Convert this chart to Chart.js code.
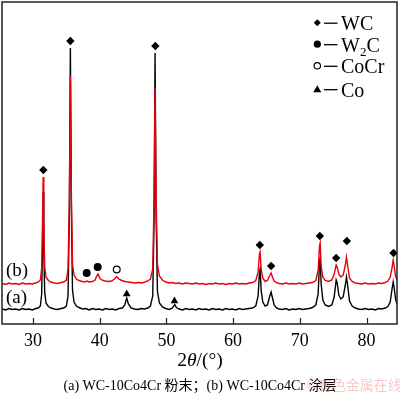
<!DOCTYPE html>
<html><head><meta charset="utf-8">
<script src="https://cdn.jsdelivr.net/npm/chart.js@4.4.0/dist/chart.umd.min.js"></script>
<style>html,body{margin:0;padding:0;background:#fff}#wrap{width:400px;height:397px;position:relative}</style>
</head><body><div id="wrap"><canvas id="c" width="400" height="397"></canvas></div>
<script>
// ---- data (2θ in degrees, intensity in arbitrary units) ----
const xTicks = [30, 40, 50, 60, 70, 80];
const seriesA = [[25.4,15],[25.9,14],[26.4,15.5],[26.9,14.5],[27.4,15],[27.9,14],[28.4,15.5],[28.9,14.5],[29.4,15],[29.9,14],[30.4,15.5],[30.8,16],[31.1,18],[31.3,30],[31.42,75],[31.52,132],[31.62,75],[31.75,32],[31.95,21],[32.3,17.5],[32.7,16],[33.2,15],[33.7,14.5],[34.2,15.5],[34.6,16],[35.0,18],[35.25,28],[35.45,110],[35.6,276],[35.75,115],[35.92,34],[36.15,22],[36.5,18],[36.9,16.5],[37.4,15],[37.9,15.5],[38.4,14],[38.9,15.5],[39.4,14.5],[39.9,15],[40.4,14],[40.9,15.5],[41.4,14.5],[41.9,15],[42.4,14],[42.9,15.5],[43.4,16],[43.75,19],[44.05,26],[44.3,20],[44.7,16],[45.2,15],[45.7,14.5],[46.2,15.5],[46.7,15],[47.2,16],[47.6,18],[47.95,28],[48.15,105],[48.3,271],[48.45,110],[48.65,33],[48.95,21],[49.4,17],[49.9,15.5],[50.4,14.5],[50.8,15.5],[51.05,17.5],[51.25,19.5],[51.5,16.5],[51.9,15],[52.4,14],[52.9,15.5],[53.4,14.5],[53.9,15],[54.4,14],[54.9,15.5],[55.4,14.5],[55.9,15],[56.4,14],[56.9,15.5],[57.4,14.5],[57.9,15],[58.4,14],[58.9,15.5],[59.4,14.5],[59.9,15],[60.4,14],[60.9,15.5],[61.4,14.5],[61.9,15],[62.4,15.5],[62.9,16],[63.4,18],[63.75,28],[63.95,52],[64.05,55],[64.2,34],[64.45,22],[64.8,18],[65.15,19],[65.45,27],[65.7,32],[65.9,26],[66.15,19],[66.5,16],[66.9,15],[67.4,14.5],[67.9,15.5],[68.4,14],[68.9,15],[69.4,14.5],[69.9,15.5],[70.4,14.5],[70.9,15],[71.4,15.5],[71.9,16.5],[72.4,19],[72.75,30],[72.95,62],[73.05,66],[73.2,40],[73.45,24],[73.8,19],[74.3,17.5],[74.8,19],[75.15,27],[75.45,44],[75.6,41],[75.85,29],[76.15,25],[76.5,27],[76.8,38],[77.0,47],[77.2,37],[77.45,23],[77.85,18],[78.3,16],[78.8,15],[79.3,14.5],[79.8,15.5],[80.3,14.5],[80.8,15],[81.3,14],[81.8,15.5],[82.3,15],[82.8,16],[83.2,17.5],[83.55,22],[83.85,36],[84.0,42],[84.15,36],[84.35,25],[84.57,20]];
const seriesB = [[25.4,40.5],[25.9,39.5],[26.4,41],[26.9,40],[27.4,40.5],[27.9,39.5],[28.4,41],[28.9,40],[29.4,40.5],[29.9,40],[30.4,41],[30.8,42],[31.1,44],[31.3,56],[31.42,100],[31.52,147],[31.62,100],[31.75,58],[31.95,47],[32.3,43.5],[32.7,42],[33.2,41],[33.7,40.5],[34.2,41.5],[34.6,42],[35.0,44],[35.25,55],[35.45,125],[35.6,249],[35.75,130],[35.92,60],[36.15,49],[36.5,45],[36.9,43.5],[37.4,42.5],[37.8,42],[38.05,43],[38.4,42],[38.9,42.5],[39.3,44],[39.55,48],[39.75,50],[40.0,46],[40.3,44],[40.8,43],[41.3,42.5],[41.8,43],[42.2,45],[42.55,47.5],[42.85,45],[43.3,43.5],[43.8,42.5],[44.3,42],[44.8,41.5],[45.3,41],[45.8,41.5],[46.3,41],[46.8,42],[47.2,43],[47.6,45],[47.95,55],[48.15,125],[48.3,236],[48.45,130],[48.65,60],[48.95,48],[49.4,44],[49.9,42],[50.4,41],[50.9,41.5],[51.4,40.5],[51.9,41],[52.4,40],[52.9,41],[53.4,40.5],[53.9,40],[54.4,41],[54.9,40],[55.4,40.5],[55.9,39.5],[56.4,40.5],[56.9,40],[57.4,41],[57.9,40],[58.4,40.5],[58.9,39.5],[59.4,40.5],[59.9,40],[60.4,41],[60.9,40],[61.4,40.5],[61.9,40],[62.4,41],[62.9,41.5],[63.4,43.5],[63.75,52],[63.95,70],[64.05,72],[64.2,55],[64.45,46],[64.8,42.5],[65.15,43.5],[65.45,48],[65.7,51],[65.9,47],[66.15,43],[66.5,41.5],[66.9,40.5],[67.4,40],[67.9,41],[68.4,40],[68.9,40.5],[69.4,40],[69.9,41],[70.4,40],[70.9,40.5],[71.4,41],[71.9,41.5],[72.4,43.5],[72.75,54],[72.95,78],[73.05,81],[73.2,58],[73.45,47],[73.8,43.5],[74.3,42.5],[74.8,44],[75.15,50],[75.45,59],[75.6,57],[75.85,50],[76.15,47],[76.5,49],[76.8,58],[77.0,67],[77.2,57],[77.45,46],[77.85,42.5],[78.3,41],[78.8,40.5],[79.3,40],[79.8,41],[80.3,40],[80.8,40.5],[81.3,40],[81.8,41],[82.3,40.5],[82.8,41.5],[83.2,43],[83.55,47],[83.85,57],[84.0,64],[84.15,58],[84.35,48],[84.57,44]];
const wcMarks   = [[31.55,154],[35.6,283],[48.34,278],[64.0,79],[65.7,58],[73.0,88],[75.45,66],[77.05,83],[84.05,71]];
const w2cMarks  = [[38.05,51],[39.7,57]];
const cocrMarks = [[42.55,54.5]];
const coMarks   = [[44.05,30],[51.2,23]];
const legendItems = ['WC', 'W2C', 'CoCr', 'Co'];
const curveLabels = ['(b)', '(a)'];
const caption = '(a) WC-10Co4Cr 粉末；(b) WC-10Co4Cr 涂层';
const watermark = '©有色金属在线';

const toXY = arr => arr.map(p => ({x: p[0], y: p[1]}));
const SERIF = '"Liberation Serif", "Times New Roman", serif';

const deco = {
  id: 'deco',
  afterDraw(chart) {
    const ctx = chart.ctx, ca = chart.chartArea, xs = chart.scales.x;
    ctx.save();
    // frame
    ctx.strokeStyle = '#222'; ctx.lineWidth = 1.5;
    ctx.strokeRect(ca.left, ca.top, ca.right - ca.left, ca.bottom - ca.top);
    // inward ticks
    ctx.lineWidth = 1.2; ctx.strokeStyle = '#222';
    xTicks.forEach(v => {
      const px = Math.round(xs.getPixelForValue(v)) + 0.5;
      ctx.beginPath(); ctx.moveTo(px, ca.bottom); ctx.lineTo(px, ca.bottom - 6); ctx.stroke();
    });
    ctx.fillStyle = '#000';
    // axis title 2θ/(°)
    ctx.textBaseline = 'alphabetic';
    const f1 = '19.5px ' + SERIF, f2 = 'italic 19.5px ' + SERIF;
    const parts = [['2', f1], ['θ', f2], ['/(°)', f1]];
    let w = 0;
    parts.forEach(p => { ctx.font = p[1]; w += ctx.measureText(p[0]).width; });
    let x = 200 - w / 2;
    parts.forEach(p => { ctx.font = p[1]; ctx.fillText(p[0], x, 366); x += ctx.measureText(p[0]).width; });
    // caption
    ctx.font = '14px ' + SERIF + ', "Noto Sans CJK SC"';
    ctx.textAlign = 'center';
    ctx.fillText(caption, 200, 390);
    // watermark
    ctx.textAlign = 'left';
    ctx.font = '14px "Noto Sans CJK SC"';
    ctx.fillStyle = 'rgba(235,120,120,0.4)';
    ctx.fillText(watermark, 306, 390);
    // curve labels
    ctx.fillStyle = '#000';
    ctx.font = '19px ' + SERIF;
    ctx.fillText(curveLabels[0], 6, 276);
    ctx.fillText(curveLabels[1], 6, 303);
    // legend
    const rows = [22.7, 44.2, 65.8, 89.2];
    const mx = 317.3;
    rows.forEach((ry, i) => {
      ctx.fillStyle = '#000'; ctx.strokeStyle = '#000'; ctx.lineWidth = 1.2;
      ctx.beginPath();
      if (i === 0) { ctx.moveTo(mx, ry - 3.5); ctx.lineTo(mx + 3.5, ry); ctx.lineTo(mx, ry + 3.5); ctx.lineTo(mx - 3.5, ry); ctx.closePath(); ctx.fill(); }
      else if (i === 1) { ctx.arc(mx, ry, 3.6, 0, Math.PI * 2); ctx.fill(); }
      else if (i === 2) { ctx.arc(mx, ry, 3.2, 0, Math.PI * 2); ctx.stroke(); }
      else { ctx.moveTo(mx, ry - 4); ctx.lineTo(mx + 4, ry + 3); ctx.lineTo(mx - 4, ry + 3); ctx.closePath(); ctx.fill(); }
      ctx.lineWidth = 1.3;
      ctx.beginPath(); ctx.moveTo(324, ry + 0.5); ctx.lineTo(337.5, ry + 0.5); ctx.stroke();
      ctx.font = '20px ' + SERIF;
      const base = ry + 7.3;
      if (legendItems[i] === 'W2C') {
        ctx.fillText('W', 341, base);
        let wx = 341 + ctx.measureText('W').width;
        ctx.font = '13px ' + SERIF; ctx.fillText('2', wx, base + 4);
        wx += ctx.measureText('2').width;
        ctx.font = '20px ' + SERIF; ctx.fillText('C', wx, base);
      } else {
        ctx.fillText(legendItems[i], 341, base);
      }
    });
    ctx.restore();
  }
};

new Chart(document.getElementById('c'), {
  type: 'scatter',
  data: {
    datasets: [
      {data: toXY(wcMarks), pointStyle: 'rectRot', pointRadius: 4.2, backgroundColor: '#000', borderColor: '#000', borderWidth: 0, showLine: false, order: 0},
      {data: toXY(w2cMarks), pointStyle: 'circle', pointRadius: 4, backgroundColor: '#000', borderColor: '#000', borderWidth: 0, showLine: false, order: 0},
      {data: toXY(cocrMarks), pointStyle: 'circle', pointRadius: 3.4, backgroundColor: '#fff', borderColor: '#000', borderWidth: 1.2, showLine: false, order: 0},
      {data: toXY(coMarks), pointStyle: 'triangle', pointRadius: 4.5, backgroundColor: '#000', borderColor: '#000', borderWidth: 0, showLine: false, order: 0},
      {data: toXY(seriesB), showLine: true, pointRadius: 0, borderColor: '#e8000b', borderWidth: 1.4, tension: 0, order: 1},
      {data: toXY(seriesA), showLine: true, pointRadius: 0, borderColor: '#000', borderWidth: 1.4, tension: 0, order: 2}
    ]
  },
  options: {
    responsive: false, animation: false, devicePixelRatio: 1,
    layout: {autoPadding: false, padding: {left: 2, right: 3, top: 2, bottom: 0}},
    plugins: {legend: {display: false}, tooltip: {enabled: false}},
    scales: {
      x: {
        type: 'linear', min: 25.35, max: 84.57,
        afterBuildTicks: s => { s.ticks = xTicks.map(v => ({value: v})); },
        afterFit: s => { s.height = 73; },
        grid: {display: false, drawTicks: false},
        border: {display: false},
        ticks: {padding: 6, color: '#000', font: {family: SERIF, size: 18}}
      },
      y: {display: false, min: 0, max: 322}
    }
  },
  plugins: [deco]
});
</script>
</body></html>
